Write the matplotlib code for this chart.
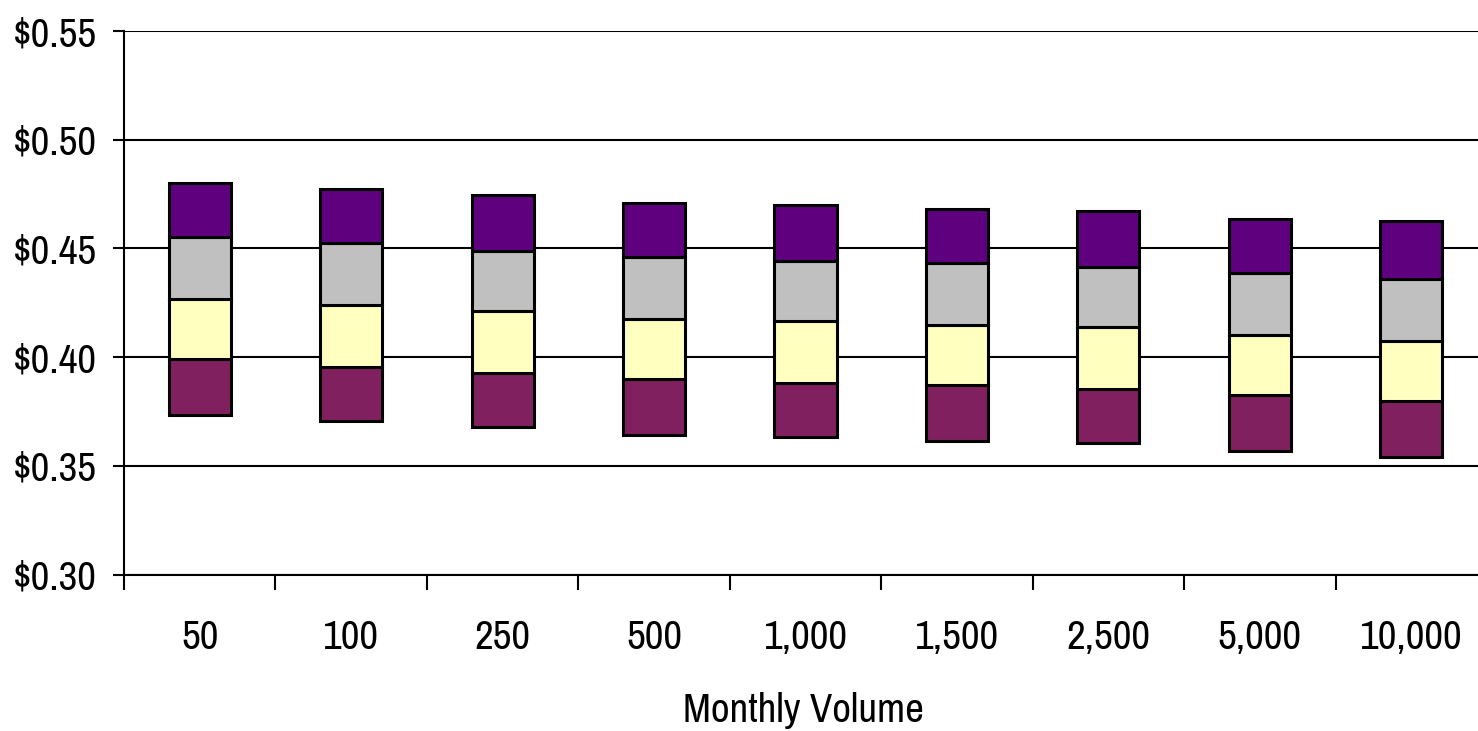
import matplotlib
matplotlib.use("Agg")
import matplotlib.pyplot as plt
import numpy as np
from matplotlib.ticker import FixedLocator, FuncFormatter

categories = ["50", "100", "250", "500", "1,000", "1,500", "2,500", "5,000", "10,000"]
# segment boundaries (price levels)
level0 = [0.3736, 0.3708, 0.3681, 0.3644, 0.3635, 0.3616, 0.3607, 0.3570, 0.3543]
level1 = [0.3993, 0.3957, 0.3929, 0.3901, 0.3883, 0.3874, 0.3855, 0.3828, 0.3799]
level2 = [0.4269, 0.4240, 0.4214, 0.4177, 0.4167, 0.4150, 0.4139, 0.4102, 0.4075]
level3 = [0.4554, 0.4527, 0.4490, 0.4462, 0.4443, 0.4435, 0.4416, 0.4389, 0.4360]
level4 = [0.4803, 0.4774, 0.4747, 0.4709, 0.4701, 0.4682, 0.4672, 0.4636, 0.4626]
y_ticks = [0.30, 0.35, 0.40, 0.45, 0.50, 0.55]

colors = ["#80205F", "#FFFFC0", "#C0C0C0", "#5F007F"]

plt.rcParams['font.family'] = ['Archivo Narrow', 'Liberation Sans', 'DejaVu Sans']
FS = 29.5

fig = plt.figure(figsize=(14.78, 7.31), dpi=100)
W, H = 1478, 731
left, right, top, bottom = 124, 1487, 31, 574.7
ax = fig.add_axes([left / W, 1 - bottom / H, (right - left) / W, (bottom - top) / H])

x = np.arange(len(categories))
levels = [np.array(level0), np.array(level1), np.array(level2), np.array(level3), np.array(level4)]
for i in range(4):
    ax.bar(x, levels[i + 1] - levels[i], bottom=levels[i], width=0.41,
           color=colors[i], edgecolor="black", linewidth=2.2, zorder=3)

ax.set_ylim(0.30, 0.55)
ax.set_xlim(-0.5, len(categories) - 0.5)
ax.set_yticks(y_ticks)
ax.yaxis.set_major_formatter(FuncFormatter(lambda v, p: f"${v:.2f}"))
ax.yaxis.grid(True, color="black", linewidth=1.5, zorder=1)
ax.set_axisbelow(True)

ax.xaxis.set_major_locator(FixedLocator(np.arange(-0.5, len(categories), 1.0)))
ax.xaxis.set_major_formatter(FuncFormatter(lambda v, p: ""))
ax.xaxis.set_minor_locator(FixedLocator(x))
ax.set_xticklabels(categories, minor=True)

ax.tick_params(axis="x", which="major", length=10.8, width=1.5, direction="out")
ax.tick_params(axis="x", which="minor", length=0, pad=32, labelsize=FS)
ax.tick_params(axis="y", length=8, width=1.5, pad=11.5, labelsize=FS)

for s in ["top", "right"]:
    ax.spines[s].set_visible(False)
ax.spines["left"].set_linewidth(1.5)
ax.spines["bottom"].set_linewidth(1.5)

ax.set_xlabel("Monthly Volume", fontsize=FS)
ax.xaxis.label.set_va("baseline")
ax.xaxis.set_label_coords((803.5 - left) / (right - left), (bottom - 721.7) / (bottom - top))

fig.savefig("out.png", dpi=100)
